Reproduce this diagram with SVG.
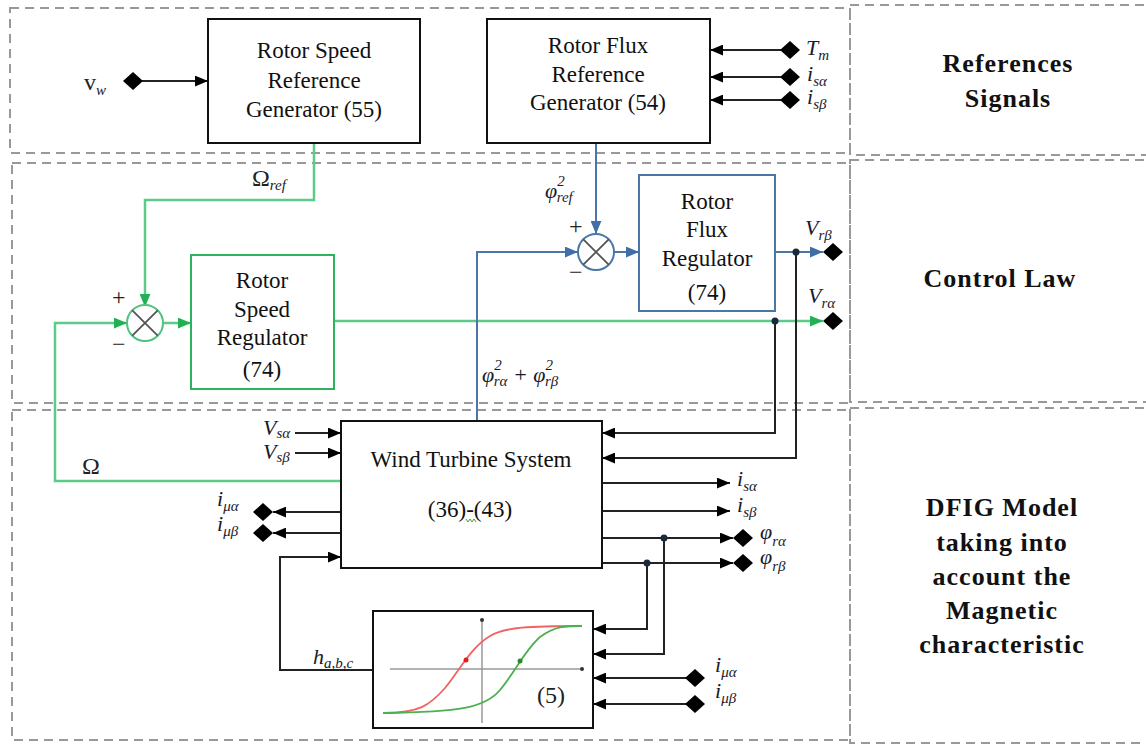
<svg xmlns="http://www.w3.org/2000/svg" width="1146" height="745" viewBox="0 0 1146 745">
<style>
.frame{fill:none;stroke:#999;stroke-width:2;stroke-dasharray:9,6}
.box{fill:#fff;stroke:#111;stroke-width:2}
.gbox{fill:#fff;stroke:#2db35d;stroke-width:2}
.bbox{fill:#fff;stroke:#4a76a8;stroke-width:2}
.k{fill:none;stroke:#222;stroke-width:2}
.g{fill:none;stroke:#5ccb8a;stroke-width:2.5}
.u{fill:none;stroke:#4a76a8;stroke-width:2}
.t{font-family:"Liberation Serif","Times New Roman",serif;font-size:23px;fill:#111;text-anchor:middle}
.m{font-family:"Liberation Serif","Times New Roman",serif;font-style:italic;font-size:22px;fill:#1a1a2a}
.s{font-size:15px}
.p{font-family:"Liberation Serif","Times New Roman",serif;font-size:24px;fill:#222}
.b{font-family:"Liberation Serif","Times New Roman",serif;font-weight:bold;font-size:26px;fill:#111;text-anchor:middle;letter-spacing:1px}
.dot{fill:#1b2a3a}
</style>
<defs>
<marker id="ak" viewBox="0 0 12 10" refX="12" refY="5" markerWidth="13" markerHeight="11" orient="auto" markerUnits="userSpaceOnUse"><path d="M0,0 L12,5 L0,10 z" fill="#000"/></marker>
<marker id="ag" viewBox="0 0 12 10" refX="12" refY="5" markerWidth="13" markerHeight="11" orient="auto" markerUnits="userSpaceOnUse"><path d="M0,0 L12,5 L0,10 z" fill="#1fb152"/></marker>
<marker id="au" viewBox="0 0 12 10" refX="12" refY="5" markerWidth="13" markerHeight="11" orient="auto" markerUnits="userSpaceOnUse"><path d="M0,0 L12,5 L0,10 z" fill="#3f6ea8"/></marker>
<path id="dm" d="M-10,0 L0,-9 L10,0 L0,9 z" fill="#000"/>
</defs>

<g id="frames">
<rect class="frame" x="10" y="8" width="840" height="145"/>
<rect class="frame" x="12" y="163" width="838" height="240"/>
<rect class="frame" x="12" y="410" width="838" height="330"/>
<rect class="frame" x="850" y="5" width="300" height="150"/>
<rect class="frame" x="850" y="160" width="300" height="242"/>
<rect class="frame" x="850" y="408" width="300" height="335"/>
</g>

<g id="connectors">
<line class="k" x1="142" y1="81" x2="208" y2="81" marker-end="url(#ak)"/>
<line class="k" x1="781" y1="50" x2="710" y2="50" stroke-width="2.5" marker-end="url(#ak)"/>
<line class="k" x1="781" y1="77" x2="710" y2="77" stroke-width="2.5" marker-end="url(#ak)"/>
<line class="k" x1="781" y1="100" x2="710" y2="100" stroke-width="2.5" marker-end="url(#ak)"/>
<polyline class="g" points="314,143 314,200 145,200 145,307" marker-end="url(#ag)"/>
<line class="g" x1="163" y1="323" x2="191" y2="323" marker-end="url(#ag)"/>
<polyline class="g" points="341,481 55,481 55,323 127,323" marker-end="url(#ag)"/>
<line class="g" x1="334" y1="321" x2="823" y2="321" marker-end="url(#ag)"/>
<polyline class="k" points="775,321 775,433 602,433" marker-end="url(#ak)"/>
<line class="u" x1="596" y1="143" x2="596" y2="234" marker-end="url(#au)"/>
<polyline class="u" points="477,421 477,252 578,252" marker-end="url(#au)"/>
<line class="u" x1="614" y1="252" x2="639" y2="252" marker-end="url(#au)"/>
<line class="u" x1="775" y1="252" x2="823" y2="252" marker-end="url(#au)"/>
<polyline class="k" points="796,252 796,458 602,458" marker-end="url(#ak)"/>
<line class="k" x1="295" y1="433" x2="341" y2="433" marker-end="url(#ak)"/>
<line class="k" x1="295" y1="453" x2="341" y2="453" marker-end="url(#ak)"/>
<line class="k" x1="341" y1="512" x2="273" y2="512" marker-end="url(#ak)"/>
<line class="k" x1="341" y1="533" x2="273" y2="533" stroke-width="2.5" marker-end="url(#ak)"/>
<polyline class="k" points="373,670 280,670 280,557 341,557" marker-end="url(#ak)"/>
<line class="k" x1="602" y1="483" x2="730" y2="483" marker-end="url(#ak)"/>
<line class="k" x1="602" y1="511" x2="730" y2="511" stroke-width="2.5" marker-end="url(#ak)"/>
<line class="k" x1="602" y1="538" x2="733" y2="538" marker-end="url(#ak)"/>
<line class="k" x1="602" y1="563" x2="733" y2="563" stroke-width="2.5" marker-end="url(#ak)"/>
<polyline class="k" points="647,563 647,629 593,629" marker-end="url(#ak)"/>
<polyline class="k" points="664,538 664,654 593,654" marker-end="url(#ak)"/>
<line class="k" x1="686" y1="678" x2="593" y2="678" stroke-width="2.5" marker-end="url(#ak)"/>
<line class="k" x1="686" y1="704" x2="593" y2="704" stroke-width="2.5" marker-end="url(#ak)"/>
<use href="#dm" x="133" y="81"/>
<use href="#dm" x="790" y="50"/>
<use href="#dm" x="790" y="77"/>
<use href="#dm" x="790" y="100"/>
<use href="#dm" x="833" y="252"/>
<use href="#dm" x="833" y="321"/>
<use href="#dm" x="263" y="512"/>
<use href="#dm" x="263" y="533"/>
<use href="#dm" x="743" y="538"/>
<use href="#dm" x="743" y="563"/>
<use href="#dm" x="695" y="678"/>
<use href="#dm" x="695" y="704"/>
<circle class="dot" cx="775" cy="321" r="3.5"/>
<circle class="dot" cx="796" cy="252" r="3.5"/>
<circle class="dot" cx="664" cy="538" r="3.5"/>
<circle class="dot" cx="647" cy="563" r="3.5"/>
</g>

<g id="rsrg">
<rect class="box" x="208" y="19" width="212" height="124"/>
<text class="t" x="314" y="58">Rotor Speed</text>
<text class="t" x="314" y="88">Reference</text>
<text class="t" x="314" y="117">Generator (55)</text>
</g>

<g id="rfrg">
<rect class="box" x="487" y="19" width="223" height="124"/>
<text class="t" x="598" y="53">Rotor Flux</text>
<text class="t" x="598" y="82">Reference</text>
<text class="t" x="598" y="110">Generator (54)</text>
</g>

<g id="sum1">
<circle cx="145" cy="323" r="18" fill="#fff" stroke="#4fc27f" stroke-width="2"/>
<path d="M132.3,310.3 L157.7,335.7 M157.7,310.3 L132.3,335.7" stroke="#555" stroke-width="1.8"/>
</g>

<g id="rsr">
<rect class="gbox" x="191" y="255" width="143" height="134"/>
<text class="t" x="262" y="288">Rotor</text>
<text class="t" x="262" y="317">Speed</text>
<text class="t" x="262" y="345">Regulator</text>
<text class="t" x="262" y="377">(74)</text>
</g>

<g id="sum2">
<circle cx="596" cy="252" r="18" fill="#fff" stroke="#4a76a8" stroke-width="2"/>
<path d="M583.3,239.3 L608.7,264.7 M608.7,239.3 L583.3,264.7" stroke="#555" stroke-width="1.8"/>
</g>

<g id="rfr">
<rect class="bbox" x="639" y="175" width="136" height="136"/>
<text class="t" x="707" y="209">Rotor</text>
<text class="t" x="707" y="237">Flux</text>
<text class="t" x="707" y="266">Regulator</text>
<text class="t" x="707" y="300">(74)</text>
</g>

<g id="wts">
<rect class="box" x="341" y="421" width="261" height="147"/>
<text class="t" x="471" y="467">Wind Turbine System</text>
<text class="t" x="470" y="517">(36)-(43)</text>
<path d="M466,519 l2,3 l2,-3 l2,3 l2,-3 l2,3" fill="none" stroke="#3aa33a" stroke-width="1"/>
</g>

<g id="hyst">
<rect class="box" x="373" y="611" width="220" height="117"/>
<line x1="390" y1="669" x2="582" y2="669" stroke="#999" stroke-width="1.5"/>
<line x1="482" y1="620" x2="482" y2="723" stroke="#999" stroke-width="1.5"/>
<circle cx="582" cy="669" r="2" fill="#333"/>
<circle cx="482" cy="620" r="2" fill="#333"/>
<path d="M383,713 C420,713 430,705 445,688 C460,670 470,648 490,636 C505,627 530,626 582,626" fill="none" stroke="#f26262" stroke-width="1.8"/>
<path d="M383,713 C460,712 485,708 500,690 C515,672 525,650 540,637 C555,626 565,626 582,626" fill="none" stroke="#4cb050" stroke-width="1.8"/>
<circle cx="466" cy="660" r="2.5" fill="#e02020"/>
<circle cx="520" cy="661" r="2.5" fill="#2a8a2a"/>
<text class="p" x="537" y="703">(5)</text>
</g>

<g id="labels">
<text class="p" x="84" y="90" font-size="22">v<tspan class="m s" dy="5" font-size="15">w</tspan></text>
<text class="m" x="806" y="55">T<tspan class="s" dy="5">m</tspan></text>
<text class="m" x="807" y="81">i<tspan class="s" dy="5">sα</tspan></text>
<text class="m" x="807" y="104">i<tspan class="s" dy="5">sβ</tspan></text>
<text class="p" x="252" y="186" font-size="22">Ω<tspan class="m s" dy="4">ref</tspan></text>
<text class="m" x="545" y="198">φ<tspan class="s" dy="-12">2</tspan><tspan class="s" dx="-8" dy="16">ref</tspan></text>
<text class="p" x="112" y="305" font-size="22">+</text>
<text class="p" x="112" y="352" font-size="22">−</text>
<text class="p" x="569" y="234" font-size="22">+</text>
<text class="p" x="569" y="280" font-size="22">−</text>
<text class="m" x="805" y="235">V<tspan class="s" dy="5">rβ</tspan></text>
<text class="m" x="808" y="303">V<tspan class="s" dy="5">rα</tspan></text>
<text class="m" x="482" y="382">φ<tspan class="s" dy="-12">2</tspan><tspan class="s" dx="-8" dy="16">rα</tspan><tspan dy="-4"> + φ</tspan><tspan class="s" dy="-12">2</tspan><tspan class="s" dx="-8" dy="16">rβ</tspan></text>
<text class="p" x="82" y="474" font-size="22">Ω</text>
<text class="m" x="263" y="435" font-size="20">V<tspan class="s" dy="3">sα</tspan></text>
<text class="m" x="263" y="459" font-size="20">V<tspan class="s" dy="3">sβ</tspan></text>
<text class="m" x="217" y="506" font-size="20">i<tspan class="s" dy="5">μα</tspan></text>
<text class="m" x="217" y="531" font-size="20">i<tspan class="s" dy="5">μβ</tspan></text>
<text class="m" x="737" y="486">i<tspan class="s" dy="5">sα</tspan></text>
<text class="m" x="737" y="512">i<tspan class="s" dy="5">sβ</tspan></text>
<text class="m" x="760" y="539">φ<tspan class="s" dy="7">rα</tspan></text>
<text class="m" x="760" y="564">φ<tspan class="s" dy="7">rβ</tspan></text>
<text class="m" x="313" y="664">h<tspan class="s" dy="4">a,b,c</tspan></text>
<text class="m" x="715" y="672">i<tspan class="s" dy="5">μα</tspan></text>
<text class="m" x="715" y="698">i<tspan class="s" dy="5">μβ</tspan></text>
</g>

<g id="sections">
<text class="b" x="1008" y="72">References</text>
<text class="b" x="1008" y="107">Signals</text>
<text class="b" x="1000" y="287">Control Law</text>
<text class="b" x="1002" y="516">DFIG Model</text>
<text class="b" x="1002" y="551">taking into</text>
<text class="b" x="1002" y="585">account the</text>
<text class="b" x="1002" y="619">Magnetic</text>
<text class="b" x="1002" y="653">characteristic</text>
</g>
</svg>
